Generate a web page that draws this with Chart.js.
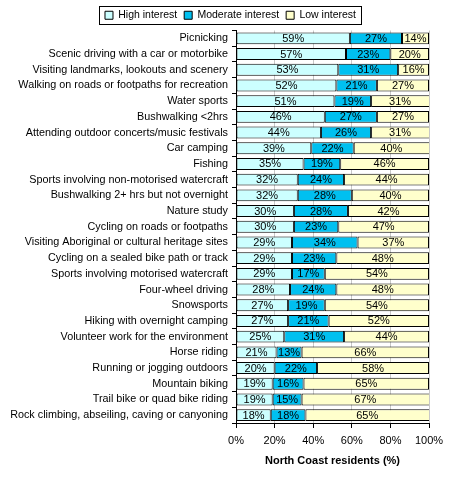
<!DOCTYPE html>
<html>
<head>
<meta charset="utf-8">
<script src="https://cdn.jsdelivr.net/npm/chart.js@4/dist/chart.umd.min.js"></script>
<style>
html,body{margin:0;padding:0;background:#fff;}
#wrap{width:466px;height:481px;position:relative;}
</style>
</head>
<body>
<div id="wrap"><canvas id="c" width="466" height="481"></canvas></div>
<script>
const categories = [
  "Picnicking",
  "Scenic driving with a car or motorbike",
  "Visiting landmarks, lookouts and scenery",
  "Walking on roads or footpaths for recreation",
  "Water sports",
  "Bushwalking <2hrs",
  "Attending outdoor concerts/music festivals",
  "Car camping",
  "Fishing",
  "Sports involving non-motorised watercraft",
  "Bushwalking 2+ hrs but not overnight",
  "Nature study",
  "Cycling on roads or footpaths",
  "Visiting Aboriginal or cultural heritage sites",
  "Cycling on a sealed bike path or track",
  "Sports involving motorised watercraft",
  "Four-wheel driving",
  "Snowsports",
  "Hiking with overnight camping",
  "Volunteer work for the environment",
  "Horse riding",
  "Running or jogging outdoors",
  "Mountain biking",
  "Trail bike or quad bike riding",
  "Rock climbing, abseiling, caving or canyoning"
];
const highInterest =     [59,57,53,52,51,46,44,39,35,32,32,30,30,29,29,29,28,27,27,25,21,20,19,19,18];
const moderateInterest = [27,23,31,21,19,27,26,22,19,24,28,28,23,34,23,17,24,19,21,31,13,22,16,15,18];
const lowInterest =      [14,20,16,27,31,27,31,40,46,44,40,42,47,37,48,54,48,54,52,44,66,58,65,67,65];
const seriesNames = ["High interest","Moderate interest","Low interest"];
const xTicks = [0,20,40,60,80,100];
const xTitle = "North Coast residents (%)";

const FONT = "'Liberation Sans', Arial, sans-serif";

const valueLabels = {
  id: 'valueLabels',
  afterDatasetsDraw(chart) {
    const ctx = chart.ctx;
    ctx.save();
    ctx.font = "11px " + FONT;
    ctx.fillStyle = "#000";
    ctx.textAlign = "center";
    ctx.textBaseline = "middle";
    chart.data.datasets.forEach((ds, di) => {
      const meta = chart.getDatasetMeta(di);
      meta.data.forEach((bar, i) => {
        const left = Math.min(bar.x, bar.base);
        const right = Math.min(Math.max(bar.x, bar.base), chart.chartArea.right);
        ctx.fillText(ds.data[i] + "%", (left + right) / 2, bar.y + 0.5);
      });
    });
    ctx.restore();
  }
};

const legendBox = {
  id: 'legendBox',
  afterLayout(chart) {
    const lg = chart.legend;
    if (lg) { lg.left += 16; lg.right += 16; }
  },
  afterDraw(chart) {
    const boxes = chart.legend && chart.legend.legendHitBoxes;
    if (!boxes || !boxes.length) return;
    let l = Infinity, r = -Infinity, t = Infinity, b = -Infinity;
    boxes.forEach(h => {
      l = Math.min(l, h.left); r = Math.max(r, h.left + h.width);
      t = Math.min(t, h.top); b = Math.max(b, h.top + h.height);
    });
    const ctx = chart.ctx;
    ctx.save();
    ctx.strokeStyle = "#000";
    ctx.lineWidth = 1;
    ctx.strokeRect(Math.round(l - 6) + 0.5, Math.round(t - 4) + 0.5, Math.round(r - l + 11), Math.round(b - t + 7));
    ctx.restore();
  }
};

const colors = ["#CCFFFF", "#00C0F0", "#FFFFCC"];
const seriesData = [highInterest, moderateInterest, lowInterest];

new Chart(document.getElementById('c'), {
  type: 'bar',
  data: {
    labels: categories,
    datasets: seriesData.map((d, i) => ({
      label: seriesNames[i],
      data: d,
      backgroundColor: colors[i],
      borderColor: "#000",
      borderWidth: 1,
      borderSkipped: false,
      barPercentage: 0.76,
      categoryPercentage: 1.0
    }))
  },
  options: {
    indexAxis: 'y',
    responsive: false,
    animation: false,
    devicePixelRatio: 1,
    layout: { padding: { top: 3, right: 37, bottom: 12, left: 0 } },
    plugins: {
      legend: {
        position: 'top',
        labels: {
          font: { family: FONT, size: 10.5 },
          color: "#000",
          boxWidth: 8,
          boxHeight: 8,
          padding: 7,
          generateLabels(chart) {
            return chart.data.datasets.map((ds, i) => ({
              text: ds.label,
              fillStyle: ds.backgroundColor,
              strokeStyle: "#000",
              lineWidth: 1,
              fontColor: "#000",
              datasetIndex: i,
              hidden: false
            }));
          }
        }
      },
      tooltip: { enabled: false }
    },
    scales: {
      x: {
        stacked: true,
        min: 0,
        max: 100,
        afterBuildTicks(scale) { scale.ticks = xTicks.map(v => ({ value: v })); },
        afterFit(scale) { scale.height = 46; },
        border: { display: true, color: "#000", width: 1 },
        grid: { color: "#c8c8c8", tickColor: "#000", tickLength: 5, drawOnChartArea: true },
        ticks: {
          font: { family: FONT, size: 11 },
          color: "#000",
          padding: 6,
          maxRotation: 0,
          callback: v => v + "%"
        },
        title: {
          display: true,
          text: xTitle,
          font: { family: FONT, size: 11, weight: 'bold' },
          color: "#000",
          padding: { top: 4, bottom: 1 }
        }
      },
      y: {
        stacked: true,
        afterFit(scale) { scale.width = 236; },
        border: { display: true, color: "#000", width: 1 },
        grid: { offset: true, drawOnChartArea: false, tickColor: "#000", tickLength: 4 },
        ticks: {
          font: { family: FONT, size: 10.8 },
          color: "#000",
          padding: 4,
          autoSkip: false
        }
      }
    }
  },
  plugins: [valueLabels, legendBox]
});
</script>
</body>
</html>
